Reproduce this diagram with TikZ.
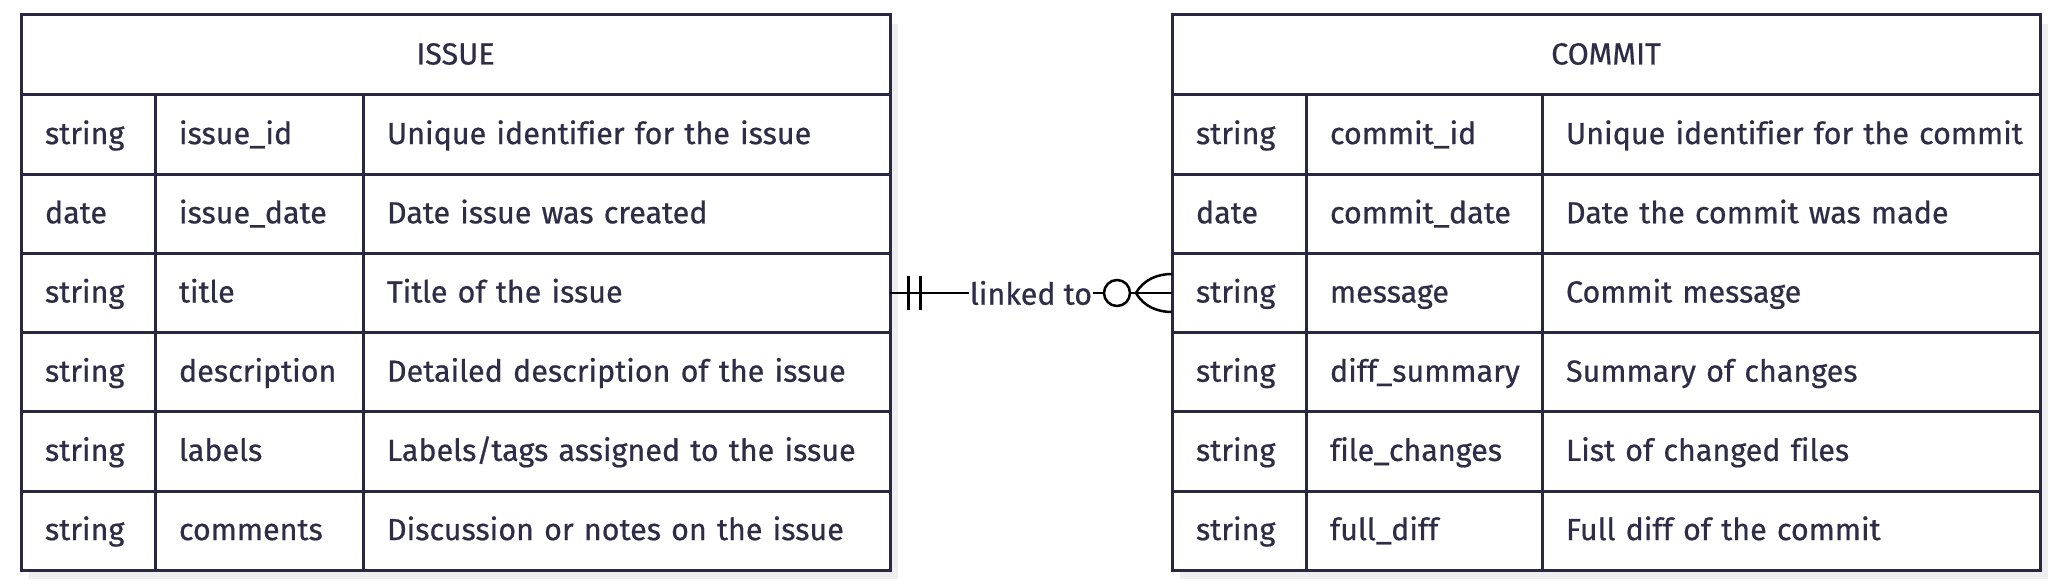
\documentclass[tikz,border=0pt]{standalone}
\usepackage{fontspec}
\setmainfont{Fira Sans}[Ligatures=CommonOff, FakeBold=0.6]
\usetikzlibrary{positioning, calc, backgrounds}
\definecolor{gridLine}{HTML}{2A2840}
\definecolor{cellText}{HTML}{2E2C46}
\definecolor{shadowGray}{HTML}{EEEEEE}
\definecolor{relLine}{HTML}{000000}

\begin{document}
\begin{tikzpicture}[
    x=1pt, y=-1pt,
    font=\fontsize{30.5}{36}\selectfont,
    cell/.style={
        draw=gridLine, line width=3pt, fill=white,
        minimum height=79.2pt, inner xsep=24pt, inner ysep=0pt,
        outer sep=0pt, align=left, text=cellText,
        text height=25pt, text depth=6pt,
        execute at begin node={\hbox\bgroup},
        execute at end node={\egroup}
    },
    headcell/.style={cell, align=center, minimum height=80pt, anchor=north west},
    typecell/.style={cell, text width=86pt},
    issueName/.style={cell, text width=160pt},
    issueDesc/.style={cell, text width=479pt},
    commitName/.style={cell, text width=188pt},
    commitDesc/.style={cell, text width=450pt},
    relation/.style={draw=relLine, line width=2.5pt},
]
\useasboundingbox (0,0) rectangle (2063,588);

% ============================================================
%  ISSUE
% ============================================================
\node[headcell, minimum width=869pt] (issueHead) at (21,15) {ISSUE};

\node[typecell, below=0pt of issueHead.south west, anchor=north west] (issueT1) {string};
\node[issueName, right=0pt of issueT1] (issueN1) {issue\_id};
\node[issueDesc, right=0pt of issueN1] (issueD1) {Unique identifier for the issue};

\node[typecell, below=0pt of issueT1] (issueT2) {date};
\node[issueName, right=0pt of issueT2] (issueN2) {issue\_date};
\node[issueDesc, right=0pt of issueN2] (issueD2) {Date issue was created};

\node[typecell, below=0pt of issueT2] (issueT3) {string};
\node[issueName, right=0pt of issueT3] (issueN3) {title};
\node[issueDesc, right=0pt of issueN3] (issueD3) {Title of the issue};

\node[typecell, below=0pt of issueT3] (issueT4) {string};
\node[issueName, right=0pt of issueT4] (issueN4) {description};
\node[issueDesc, right=0pt of issueN4] (issueD4) {Detailed description of the issue};

\node[typecell, below=0pt of issueT4] (issueT5) {string};
\node[issueName, right=0pt of issueT5] (issueN5) {labels};
\node[issueDesc, right=0pt of issueN5] (issueD5) {Labels/tags assigned to the issue};

\node[typecell, below=0pt of issueT5] (issueT6) {string};
\node[issueName, right=0pt of issueT6] (issueN6) {comments};
\node[issueDesc, right=0pt of issueN6] (issueD6) {Discussion or notes on the issue};

% ============================================================
%  COMMIT
% ============================================================
\node[headcell, minimum width=868pt] (commitHead) at (1172,15) {COMMIT};

\node[typecell, below=0pt of commitHead.south west, anchor=north west] (commitT1) {string};
\node[commitName, right=0pt of commitT1] (commitN1) {commit\_id};
\node[commitDesc, right=0pt of commitN1] (commitD1) {Unique identifier for the commit};

\node[typecell, below=0pt of commitT1] (commitT2) {date};
\node[commitName, right=0pt of commitT2] (commitN2) {commit\_date};
\node[commitDesc, right=0pt of commitN2] (commitD2) {Date the commit was made};

\node[typecell, below=0pt of commitT2] (commitT3) {string};
\node[commitName, right=0pt of commitT3] (commitN3) {message};
\node[commitDesc, right=0pt of commitN3] (commitD3) {Commit message};

\node[typecell, below=0pt of commitT3] (commitT4) {string};
\node[commitName, right=0pt of commitT4] (commitN4) {diff\_summary};
\node[commitDesc, right=0pt of commitN4] (commitD4) {Summary of changes};

\node[typecell, below=0pt of commitT4] (commitT5) {string};
\node[commitName, right=0pt of commitT5] (commitN5) {file\_changes};
\node[commitDesc, right=0pt of commitN5] (commitD5) {List of changed files};

\node[typecell, below=0pt of commitT5] (commitT6) {string};
\node[commitName, right=0pt of commitT6] (commitN6) {full\_diff};
\node[commitDesc, right=0pt of commitN6] (commitD6) {Full diff of the commit};

% ============================================================
%  SHADOWS
% ============================================================
\begin{scope}[on background layer]
    \fill[white] (0,0) rectangle (2063,588);
    \fill[shadowGray] ($(issueHead.north west)+(8,9)$) rectangle ($(issueD6.south east)+(8,9)$);
    \fill[shadowGray] ($(commitHead.north west)+(8,9)$) rectangle ($(commitD6.south east)+(8,9)$);
\end{scope}

% ============================================================
%  RELATION  (exactly one -- zero or many)
% ============================================================
\draw[relation] (issueD3.east) -- node[fill=white, inner sep=1pt, text=cellText] (relLabel) {linked to} (commitT3.west);
\draw[relation, line width=3pt] ($(issueD3.east)+(18,-17)$) -- ++(0,34);
\draw[relation, line width=3pt] ($(issueD3.east)+(30,-17)$) -- ++(0,34);
\draw[relation, fill=white] ($(commitT3.west)+(-55,0)$) circle (13pt);
\draw[relation] ($(commitT3.west)+(-36,0)$) .. controls +(8,-14) and +(-14,0) .. ($(commitT3.west)+(0,-19)$);
\draw[relation] ($(commitT3.west)+(-36,0)$) .. controls +(8,14) and +(-14,0) .. ($(commitT3.west)+(0,19)$);

\end{tikzpicture}
\end{document}
